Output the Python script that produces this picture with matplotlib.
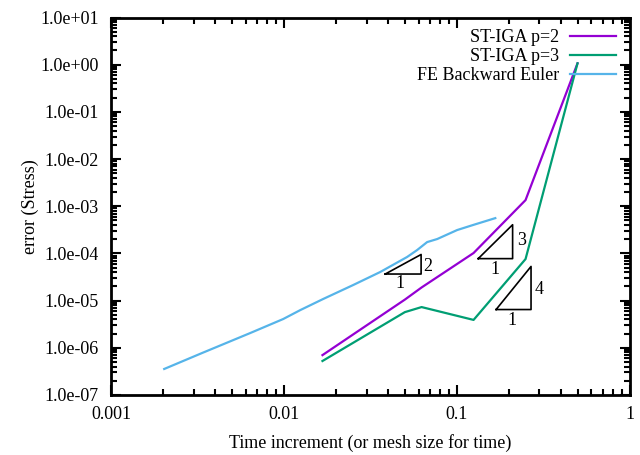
import matplotlib
matplotlib.use('Agg')
import matplotlib.pyplot as plt
from matplotlib.ticker import LogLocator, FormatStrFormatter, NullFormatter
import numpy as np

plt.rcParams['font.family'] = ['Liberation Serif', 'DejaVu Serif']
plt.rcParams['font.size'] = 13

# ST-IGA p=2
dt_p2 = [1/60, 1/20, 1/16, 1/8, 1/4, 1/2]
err_p2 = [7.0e-7, 1.05e-5, 1.9e-5, 1.02e-4, 1.35e-3, 1.07]
# ST-IGA p=3
dt_p3 = [1/60, 1/20, 1/16, 1/8, 1/4, 1/2]
err_p3 = [5.25e-7, 5.7e-6, 7.3e-6, 3.9e-6, 7.6e-5, 1.07]
# FE Backward Euler
dt_fe = [0.00202, 0.00336, 0.00637, 0.00987, 0.0124, 0.0168, 0.0251, 0.036,
         0.0515, 0.0589, 0.0673, 0.077, 0.1004, 0.124, 0.167]
err_fe = [3.56e-7, 7.8e-7, 2.06e-6, 4.07e-6, 6.3e-6, 1.08e-5, 2.14e-5, 4.04e-5,
          8.4e-5, 1.18e-4, 1.74e-4, 2.02e-4, 3.13e-4, 4.0e-4, 5.6e-4]

# slope triangles: (x0, x1), (y0, y1), rise label, label positions
tri_x = [(0.0385, 0.0621), (0.133, 0.2104), (0.1688, 0.269)]
tri_y = [(3.66e-5, 9.5e-5), (7.76e-5, 4.06e-4), (6.47e-6, 5.3e-5)]
tri_rise = ['2', '3', '4']
rise_pos = [(0.0682, 5.4e-5), (0.2387, 1.92e-4), (0.298, 1.76e-5)]
run_pos = [(0.047, 2.36e-5), (0.1666, 4.67e-5), (0.209, 3.7e-6)]

fig = plt.figure(figsize=(6.4, 4.55), dpi=100)
ax = fig.add_axes([0.1742, 0.1319, 0.8094, 0.8296])

ax.plot(dt_p2, err_p2, color='#9400d3', lw=1.6, label='ST-IGA p=2')
ax.plot(dt_p3, err_p3, color='#009e73', lw=1.6, label='ST-IGA p=3')
ax.plot(dt_fe, err_fe, color='#56b4e9', lw=1.6, label='FE Backward Euler')

for i in range(len(tri_x)):
    (x0, x1), (y0, y1) = tri_x[i], tri_y[i]
    ax.plot([x0, x1, x1, x0], [y0, y0, y1, y0], color='black', lw=1.2)
    ax.text(rise_pos[i][0], rise_pos[i][1], tri_rise[i], ha='center', va='center')
    ax.text(run_pos[i][0], run_pos[i][1], '1', ha='center', va='center')

ax.set_xscale('log')
ax.set_yscale('log')
ax.set_xlim(0.001, 1)
ax.set_ylim(1e-7, 10)
ax.xaxis.set_major_locator(LogLocator(base=10, numticks=10))
ax.yaxis.set_major_locator(LogLocator(base=10, numticks=20))
ax.xaxis.set_minor_locator(LogLocator(base=10, subs=np.arange(2, 10), numticks=20))
ax.yaxis.set_minor_locator(LogLocator(base=10, subs=np.arange(2, 10), numticks=20))
ax.xaxis.set_major_formatter(FormatStrFormatter('%g'))
ax.yaxis.set_major_formatter(FormatStrFormatter('%.1e'))
ax.xaxis.set_minor_formatter(NullFormatter())
ax.yaxis.set_minor_formatter(NullFormatter())
ax.tick_params(which='both', direction='in', top=True, right=True, width=1.5)
ax.tick_params(which='major', length=7)
ax.tick_params(which='minor', length=4)
ax.tick_params(axis='y', pad=9)
ax.tick_params(axis='x', pad=8)
for s in ax.spines.values():
    s.set_linewidth(2)

ax.set_xlabel('Time increment (or mesh size for time)', labelpad=8)
ax.set_ylabel('error (Stress)', labelpad=1)

ax.legend(loc='upper right', bbox_to_anchor=(0.987, 0.988), frameon=False,
          markerfirst=False, handlelength=2.5, handletextpad=0.6,
          labelspacing=0.1, borderaxespad=0)

plt.savefig('out.png', dpi=100)
